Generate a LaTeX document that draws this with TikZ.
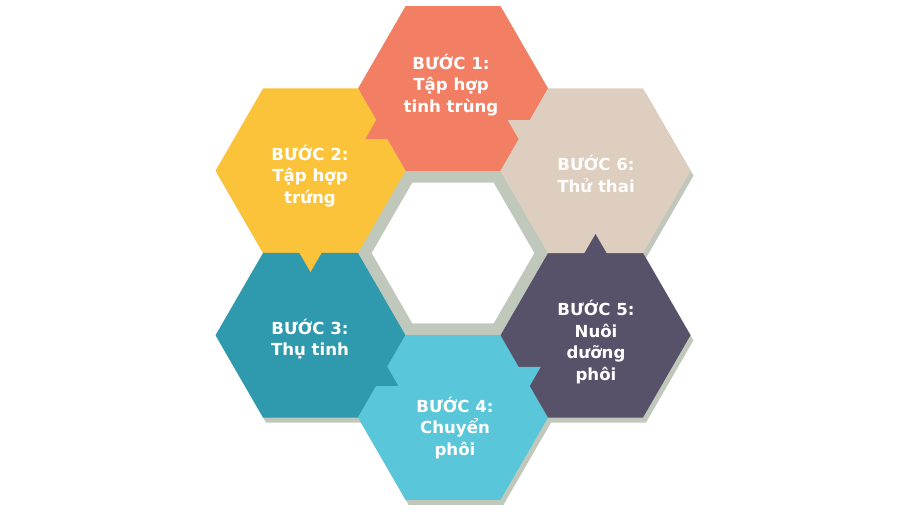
\documentclass[tikz,border=0pt]{standalone}
\usepackage{fontspec}
\setmainfont{DejaVu Sans}
\usetikzlibrary{shapes.geometric,calc}
\definecolor{cOrange}{HTML}{F27E63}
\definecolor{cYellow}{HTML}{FBC33A}
\definecolor{cBeige}{HTML}{DDCEBF}
\definecolor{cTeal}{HTML}{2F99AE}
\definecolor{cLight}{HTML}{5AC6D9}
\definecolor{cPurple}{HTML}{57516A}
\definecolor{cGray}{HTML}{C0C8BC}
\definecolor{cText}{HTML}{FFFFFF}
\newcommand\hexptr[3]{%
  \coordinate (pm) at ($(#1)!0.5!(#2)$);
  \coordinate (pb) at ($(pm)!-1pt!(#2)$);
  \fill[#3] ($(pm)!19pt!(#2)$) -- ($(pb)!11.6pt!90:(#2)$) -- ($(pb)!11.6pt!-90:(#2)$) -- cycle;
}
\begin{document}
\begin{tikzpicture}[x=1pt,y=-1pt,
  hexa/.style={regular polygon, regular polygon sides=6, minimum size=190pt,
    inner sep=0pt, outer sep=0pt, draw=none},
  shadowhex/.style={hexa, fill=cGray},
  lbl/.style={text=cText, font=\bfseries\fontsize{16.6}{21.5}\selectfont, align=center}]
\useasboundingbox (0,0) rectangle (901,517);
\coordinate (c0) at (453,253);
\coordinate (c1) at (453,88.5);
\coordinate (c2) at (310.5,170.75);
\coordinate (c3) at (310.5,335.25);
\coordinate (c4) at (453,417.5);
\coordinate (c5) at (595.5,335.25);
\coordinate (c6) at (595.5,170.75);
% shadows
\foreach \i in {1,...,6}{
  \node[shadowhex] (s\i) at ($(c\i)+(3,5)$) {};
}
% centre ring
\node[shadowhex] (ring) at (c0) {};
\node[hexa, fill=white, minimum size=162.4pt] (hole) at (c0) {};
% hexagons
\node[hexa, fill=cOrange] (h1) at (c1) {};
\node[hexa, fill=cYellow] (h2) at (c2) {};
\node[hexa, fill=cTeal]   (h3) at (c3) {};
\node[hexa, fill=cLight]  (h4) at (c4) {};
\node[hexa, fill=cPurple] (h5) at (c5) {};
\node[hexa, fill=cBeige]  (h6) at (c6) {};
% pointers
\hexptr{c1}{c2}{cOrange}
\hexptr{c2}{c3}{cYellow}
\hexptr{c3}{c4}{cTeal}
\hexptr{c4}{c5}{cLight}
\hexptr{c5}{c6}{cPurple}
\hexptr{c6}{c1}{cBeige}
% labels
\node[lbl] (t1) at (451,85) {BƯỚC 1:\\Tập hợp\\tinh trùng};
\node[lbl] (t2) at (310,176) {BƯỚC 2:\\Tập hợp\\trứng};
\node[lbl] (t3) at (310,339) {BƯỚC 3:\\Thụ tinh};
\node[lbl] (t4) at (455,428) {BƯỚC 4:\\Chuyển\\phôi};
\node[lbl] (t5) at (596,342) {BƯỚC 5:\\Nuôi\\dưỡng\\phôi};
\node[lbl, text=white!96!cBeige] (t6) at (596,174) {BƯỚC 6:\\Thử thai};
\end{tikzpicture}
\end{document}
